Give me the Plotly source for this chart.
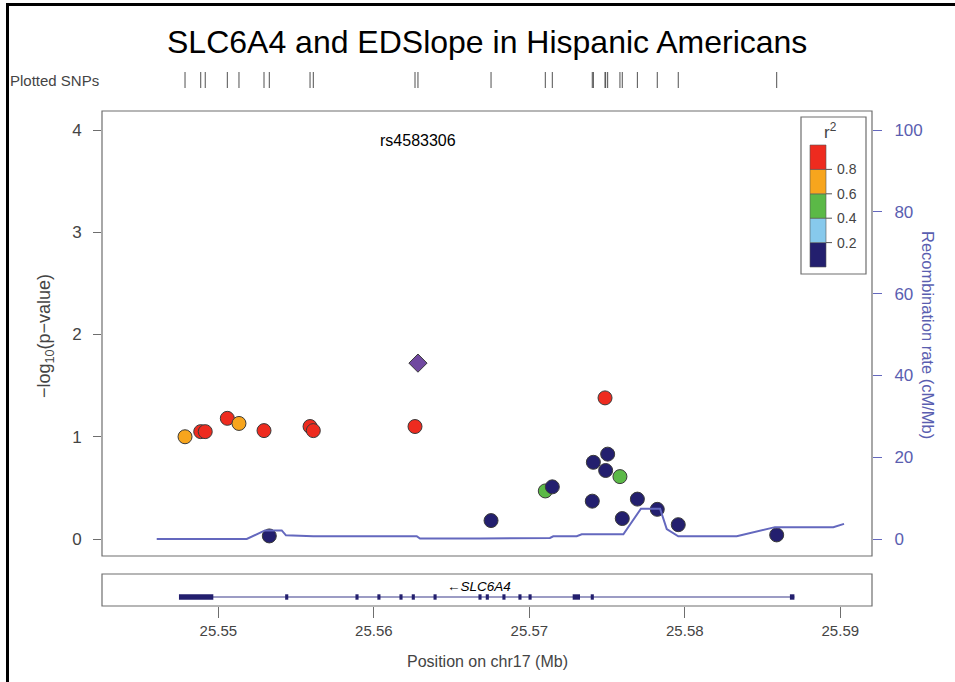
import plotly.graph_objects as go

W, H = 955, 682

# --- association results (position in Mb, -log10 p, r2 with lead SNP) ---
snp_pos = [25.54786, 25.54887, 25.54916, 25.55058, 25.55133, 25.55294, 25.55328,
           25.55590, 25.55611, 25.56265, 25.56754, 25.57103, 25.57148, 25.57405,
           25.57412, 25.57487, 25.57491, 25.57504, 25.57583, 25.57598, 25.57695,
           25.57823, 25.57958, 25.58591]
snp_logp = [1.00, 1.05, 1.05, 1.18, 1.13, 1.06, 0.03,
            1.10, 1.06, 1.10, 0.18, 0.47, 0.51, 0.37,
            0.75, 1.38, 0.67, 0.83, 0.61, 0.20, 0.39,
            0.29, 0.14, 0.04]
snp_r2 = [0.7, 0.85, 0.85, 0.85, 0.7, 0.85, 0.1,
          0.85, 0.85, 0.85, 0.1, 0.5, 0.1, 0.1,
          0.1, 0.85, 0.1, 0.1, 0.5, 0.1, 0.1,
          0.1, 0.1, 0.1]

lead_name = "rs4583306"
lead_pos = 25.56284
lead_logp = 1.72

# --- recombination rate (cM/Mb) ---
recomb_pos = [25.54604, 25.55183, 25.55300, 25.55408, 25.55435, 25.55611, 25.56276,
              25.56297, 25.56683, 25.57133, 25.57154, 25.57305, 25.57337, 25.57605,
              25.57718, 25.57841, 25.57884, 25.57958, 25.58334, 25.58580, 25.58955,
              25.59024]
recomb_rate = [0.0, 0.0, 2.1, 2.1, 0.9, 0.7, 0.7,
               0.1, 0.1, 0.25, 0.65, 0.7, 1.15, 1.15,
               7.4, 7.4, 2.4, 0.65, 0.65, 2.9, 2.9,
               3.7]

# --- gene model for SLC6A4 (minus strand) ---
gene_name = "SLC6A4"
gene_start, gene_end = 25.54747, 25.58705
exon_starts = [25.54747, 25.55430, 25.55882, 25.56023, 25.56165, 25.56244, 25.56384,
               25.56673, 25.56720, 25.56827, 25.56930, 25.56995, 25.57279, 25.57395,
               25.58676]
exon_ends = [25.54968, 25.55450, 25.55902, 25.56043, 25.56185, 25.56264, 25.56404,
             25.56693, 25.56740, 25.56847, 25.56950, 25.57015, 25.57326, 25.57415,
             25.58705]

# --- LD colour key ---
r2_breaks = [0.0, 0.2, 0.4, 0.6, 0.8, 1.0]
r2_colors = ["#231F6E", "#87C9EC", "#5BB947", "#F7A51D", "#EE2B1F"]
r2_tick_labels = ["0.2", "0.4", "0.6", "0.8"]

x_ticks = [25.55, 25.56, 25.57, 25.58, 25.59]
y_ticks = [0, 1, 2, 3, 4]
recomb_ticks = [0, 20, 40, 60, 80, 100]

x_range = [25.542521, 25.592039]
y_range = [-0.1663, 4.1858]
recomb_scale = 25.0


def px(x):
    return x / W


def py(y):
    return 1 - y / H


def r2_color(v):
    for i in range(len(r2_colors)):
        if r2_breaks[i] <= v < r2_breaks[i + 1] or (i == len(r2_colors) - 1 and v >= r2_breaks[i]):
            return r2_colors[i]
    return r2_colors[0]


GRAY = "#444444"
BOX = "#6e6e6e"
RECOMB = "#6468BE"
RECOMB_TXT = "#5A5EB0"
FONT = "Liberation Sans, Arial, sans-serif"

fig = go.Figure()

# recombination line (right axis)
fig.add_trace(go.Scatter(
    x=recomb_pos, y=recomb_rate, mode="lines",
    line=dict(color=RECOMB, width=2), xaxis="x", yaxis="y2",
    hoverinfo="skip", showlegend=False))

# associated SNPs
fig.add_trace(go.Scatter(
    x=snp_pos, y=snp_logp, mode="markers",
    marker=dict(size=14, color=[r2_color(v) for v in snp_r2],
                line=dict(color="#3a3a3a", width=1)),
    xaxis="x", yaxis="y", showlegend=False))

# lead SNP
fig.add_trace(go.Scatter(
    x=[lead_pos], y=[lead_logp], mode="markers",
    marker=dict(size=14, symbol="diamond", color="#7048A0",
                line=dict(color="#3a3a3a", width=1)),
    xaxis="x", yaxis="y", showlegend=False))

# plotted SNPs rug
fig.add_trace(go.Scatter(
    x=snp_pos + [lead_pos], y=[0.5] * (len(snp_pos) + 1), mode="markers",
    marker=dict(symbol="line-ns-open", size=14, color="#505050",
                line=dict(color="#505050", width=1)),
    xaxis="x3", yaxis="y4", showlegend=False, hoverinfo="skip"))

# gene body
fig.add_trace(go.Scatter(
    x=[gene_start, gene_end], y=[9, 9], mode="lines",
    line=dict(color="#3b3a8a", width=1.2), xaxis="x2", yaxis="y3",
    showlegend=False, hoverinfo="skip"))

shapes = []
for s, e in zip(exon_starts, exon_ends):
    shapes.append(dict(type="rect", xref="x2", yref="y3", x0=s, x1=e, y0=6.3, y1=11.7,
                       fillcolor="#231F6E", line=dict(width=0)))

# main panel frame
shapes.append(dict(type="rect", xref="paper", yref="paper",
                   x0=px(102), x1=px(872), y0=py(556), y1=py(111),
                   line=dict(color=BOX, width=1.2), fillcolor="rgba(0,0,0,0)"))
# gene panel frame
shapes.append(dict(type="rect", xref="paper", yref="paper",
                   x0=px(102), x1=px(872), y0=py(606), y1=py(574),
                   line=dict(color=BOX, width=1.2), fillcolor="rgba(0,0,0,0)"))

# outer border lines (top and left)
shapes.append(dict(type="line", xref="paper", yref="paper", x0=px(7), x1=1.0,
                   y0=py(4.5), y1=py(4.5), line=dict(color="black", width=3)))
shapes.append(dict(type="line", xref="paper", yref="paper", x0=px(7.5), x1=px(7.5),
                   y0=py(3), y1=0, line=dict(color="black", width=3)))

# r2 key
key_top, key_bottom = 145, 267
seg_h = (key_bottom - key_top) / len(r2_colors)
shapes.append(dict(type="rect", xref="paper", yref="paper",
                   x0=px(801), x1=px(866), y0=py(274), y1=py(117),
                   line=dict(color=BOX, width=1.2), fillcolor="white"))
for i, c in enumerate(r2_colors):
    top = key_bottom - (i + 1) * seg_h
    bot = key_bottom - i * seg_h
    shapes.append(dict(type="rect", xref="paper", yref="paper",
                       x0=px(810), x1=px(826), y0=py(bot), y1=py(top),
                       fillcolor=c, line=dict(color="#555555", width=0.6)))

annotations = []
for i, lab in enumerate(r2_tick_labels):
    yy = key_bottom - (i + 1) * seg_h
    shapes.append(dict(type="line", xref="paper", yref="paper",
                       x0=px(826), x1=px(832), y0=py(yy), y1=py(yy),
                       line=dict(color="#555555", width=1)))
    annotations.append(dict(x=px(835), y=py(yy), xref="paper", yref="paper",
                            text=lab, showarrow=False, xanchor="left", yanchor="middle",
                            font=dict(size=14, color=GRAY, family=FONT)))
annotations.append(dict(x=px(830), y=py(131), xref="paper", yref="paper",
                        text="r<sup>2</sup>", showarrow=False, xanchor="center",
                        yanchor="middle", font=dict(size=17, color=GRAY, family=FONT)))

# title and labels
annotations.append(dict(x=px(487), y=py(42), xref="paper", yref="paper",
                        text="SLC6A4 and EDSlope in Hispanic Americans", showarrow=False,
                        xanchor="center", yanchor="middle",
                        font=dict(size=32, color="black", family=FONT)))
annotations.append(dict(x=px(8), y=py(80), xref="paper", yref="paper",
                        text="Plotted SNPs", showarrow=False, xanchor="left",
                        yanchor="middle", font=dict(size=15, color=GRAY, family=FONT)))
annotations.append(dict(x=lead_pos, y=py(140), xref="x", yref="paper",
                        text=lead_name, showarrow=False, xanchor="center",
                        yanchor="middle", font=dict(size=16, color="black", family=FONT)))
annotations.append(dict(x=px(45), y=py(336), xref="paper", yref="paper",
                        text="\u2212log<sub>10</sub>(p\u2212value)", showarrow=False,
                        textangle=-90, xanchor="center", yanchor="middle",
                        font=dict(size=18, color=GRAY, family=FONT)))
annotations.append(dict(x=px(928), y=py(335), xref="paper", yref="paper",
                        text="Recombination rate (cM/Mb)", showarrow=False,
                        textangle=90, xanchor="center", yanchor="middle",
                        font=dict(size=16.5, color=RECOMB_TXT, family=FONT)))
annotations.append(dict(x=(gene_start + gene_end) / 2 - 0.0005, y=20, xref="x2", yref="y3",
                        text="\u2190<i>" + gene_name + "</i>", showarrow=False,
                        xanchor="center", yanchor="middle",
                        font=dict(size=13.5, color="black", family=FONT)))
annotations.append(dict(x=px(487), y=py(661), xref="paper", yref="paper",
                        text="Position on chr17 (Mb)", showarrow=False,
                        xanchor="center", yanchor="middle",
                        font=dict(size=16, color=GRAY, family=FONT)))

main_dom_x = [px(102), px(872)]
fig.update_layout(
    width=W, height=H,
    margin=dict(l=0, r=0, t=0, b=0),
    paper_bgcolor="white", plot_bgcolor="white",
    font=dict(family=FONT, color=GRAY),
    showlegend=False,
    xaxis=dict(domain=main_dom_x, range=x_range, showgrid=False, zeroline=False,
               showticklabels=False, ticks="", anchor="y"),
    yaxis=dict(domain=[py(556), py(111)], range=y_range, showgrid=False, zeroline=False,
               tickvals=y_ticks, ticks="outside", ticklen=8, tickcolor=BOX,
               ticklabelstandoff=8,
               tickfont=dict(size=17, color=GRAY), anchor="x"),
    yaxis2=dict(overlaying="y", side="right", anchor="x",
                range=[y_range[0] * recomb_scale, y_range[1] * recomb_scale],
                tickvals=recomb_ticks, ticks="outside", ticklen=9, tickcolor=RECOMB,
                ticklabelstandoff=9,
                tickfont=dict(size=17, color=RECOMB_TXT), showgrid=False, zeroline=False),
    xaxis2=dict(domain=main_dom_x, range=x_range, anchor="y3", tickvals=x_ticks,
                ticktext=[f"{v:.2f}" for v in x_ticks], ticks="outside", ticklen=11,
                tickcolor=BOX, tickfont=dict(size=15, color=GRAY), showgrid=False,
                zeroline=False),
    yaxis3=dict(domain=[py(606), py(574)], range=[0, 32], visible=False, anchor="x2"),
    xaxis3=dict(domain=main_dom_x, range=x_range, anchor="y4", visible=False),
    yaxis4=dict(domain=[py(88), py(72)], range=[0, 1], visible=False, anchor="x3"),
    shapes=shapes,
    annotations=annotations,
)

fig.write_html("out.html")
